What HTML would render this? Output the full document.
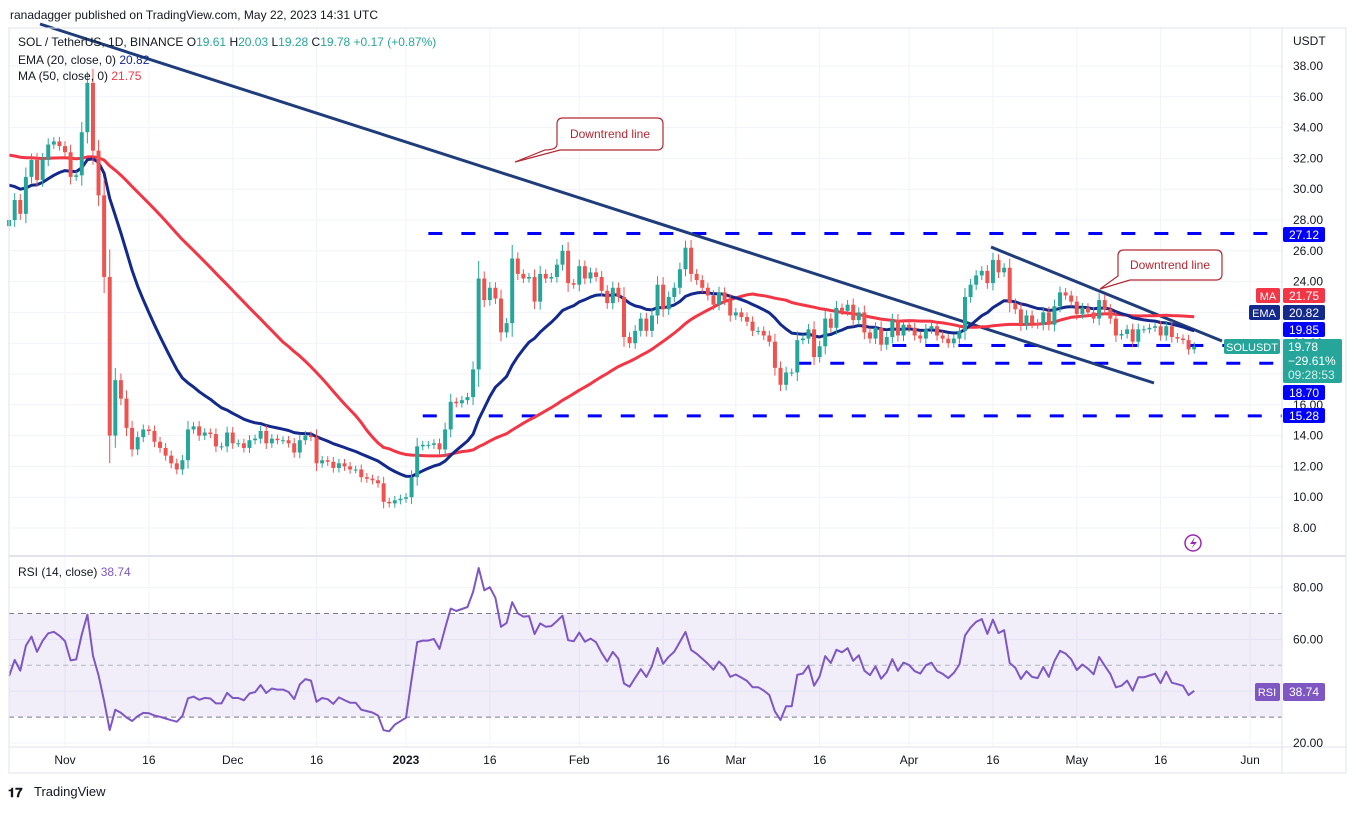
<!DOCTYPE html>
<html><head><meta charset="utf-8">
<style>
html,body{margin:0;padding:0;background:#fff;}
body{width:1356px;height:809px;overflow:hidden;font-family:"Liberation Sans",sans-serif;}
svg text{font-family:"Liberation Sans",sans-serif;}
</style></head>
<body>
<svg id="chart" width="1356" height="809" viewBox="0 0 1356 809" xmlns="http://www.w3.org/2000/svg">
<rect x="0" y="0" width="1356" height="809" fill="#ffffff"/>
<g id="grid"></g>
<g id="levels"></g>
<g id="trend"></g>
<g id="mas"></g>
<g id="candles"></g>
<g id="rsi"></g>
<g id="axes"></g>
<g id="overlay"></g>
</svg>
<script>
// ---- data ----
const startDay = -10; // days relative to Nov 1 2022 (Oct 22)
const closes = [
28.0,29.3,28.4,30.8,31.9,30.6,31.9,32.9,33.1,32.8,32.4,30.8,30.9,33.7,36.9,32.5,29.6,24.3,14.0,17.6,
16.4,14.5,13.1,13.9,14.4,14.3,13.6,13.2,12.7,12.2,11.8,12.4,14.4,14.6,14.0,14.2,14.1,13.3,13.3,14.2,
13.5,13.5,13.2,13.7,13.8,14.3,13.5,13.8,13.7,13.7,13.5,12.9,13.7,14.0,13.9,12.2,12.4,12.3,11.9,12.2,
12.0,11.8,11.8,11.3,11.2,11.1,10.9,9.7,9.6,9.8,9.9,10.0,11.3,13.3,
13.4,13.4,13.5,13.1,14.4,16.2,16.1,16.3,16.5,18.3,24.2,22.8,23.6,22.9,20.7,21.3,25.5,24.5,24.2,24.3,
22.7,24.5,24.2,24.3,25.1,26.0,23.9,23.8,25.0,24.2,24.6,24.3,23.4,22.6,23.6,23.0,20.4,20.0,20.8,21.6,
20.8,21.8,23.8,22.2,23.0,23.6,24.8,26.2,24.5,24.1,23.6,23.1,22.5,23.3,22.8,21.8,22.0,21.7,21.4,20.8,
20.8,20.5,20.1,18.4,17.3,18.1,18.1,20.2,
20.3,20.9,19.1,19.8,21.6,21.0,22.3,22.1,22.5,21.5,22.0,20.7,20.3,21.0,19.9,20.4,21.5,20.5,21.2,21.0,
20.5,20.3,20.9,21.1,20.5,20.3,20.0,20.3,20.8,23.0,23.8,24.4,24.7,23.9,25.4,24.6,24.9,22.6,22.2,21.2,
21.8,21.3,21.2,22.0,21.2,22.4,23.3,23.1,22.7,21.9,22.3,22.0,21.6,22.8,22.2,21.6,20.5,20.6,20.9,20.1,
20.9,20.9,21.0,21.1,20.5,21.1,20.4,20.3,20.2,19.6,19.78
];
const firstOpen = 27.6;
const priceTicks = [8,10,12,14,16,18,20,22,24,26,28,30,32,34,36,38];
const rsiTicks = [20,40,60,80];
const dateTickDays = [0,15,30,45,61,76,92,107,120,135,151,166,181,196,212];
const dateTickLabels = ["Nov","16","Dec","16","2023","16","Feb","16","Mar","16","Apr","16","May","16","Jun"];
const levelPrices = [27.12,19.85,18.70,15.28];
const levelStartDays = [65,148,131,64];

// ---- scales ----
const NS="http://www.w3.org/2000/svg";
function X(d){return 65+5.59*d;}
function Y(p){return 528-(p-8)*15.4;}
function RY(r){return 743-(r-20)*2.59;}
function mk(parent,tag,attrs,text){const e=document.createElementNS(NS,tag);for(const k in attrs)e.setAttribute(k,attrs[k]);if(text!==undefined)e.textContent=text;document.getElementById(parent).appendChild(e);return e;}

// grid
for(const p of priceTicks){const l=mk('grid','line',{x1:9,x2:1282,y1:Y(p),y2:Y(p),stroke:'#f0f3fa','stroke-width':1});

}
for(const d of dateTickDays){const l=mk('grid','line',{x1:X(d),x2:X(d),y1:28,y2:747,stroke:'#f0f3fa','stroke-width':1});

}
for(const r of rsiTicks){const l=mk('grid','line',{x1:9,x2:1282,y1:RY(r),y2:RY(r),stroke:'#f0f3fa','stroke-width':1});

}

// horizontal dashed levels
levelPrices.forEach((p,i)=>{const l=mk('levels','line',{x1:X(levelStartDays[i]),x2:1282,y1:Y(p),y2:Y(p),stroke:'#0000ff','stroke-width':3,'stroke-dasharray':'14 19'});

});

// trend lines
let t=mk('trend','line',{x1:40,y1:24,x2:1154,y2:383,stroke:'#1f3d7a','stroke-width':3});


t=mk('trend','line',{x1:991,y1:247,x2:1222,y2:341,stroke:'#1f3d7a','stroke-width':3});



// opens
const opens=closes.map((c,i)=>i===0?firstOpen:closes[i-1]);

// moving averages
const ema=[];let e=30.5;const a=2/21;
closes.forEach(c=>{e=c*a+e*(1-a);ema.push(e);});
const ma=[];
closes.forEach((c,i)=>{let s=0;for(let k=i-49;k<=i;k++)s+=(k<0?32.3:closes[k]);ma.push(s/50);});
function pathOf(arr,yf){return arr.map((v,i)=>(i?'L':'M')+X(startDay+i).toFixed(1)+' '+yf(v).toFixed(1)).join(' ');}
let p=mk('mas','path',{d:pathOf(ma,Y),fill:'none',stroke:'#f23645','stroke-width':3,'stroke-linejoin':'round'});


p=mk('mas','path',{d:pathOf(ema,Y),fill:'none',stroke:'#132a8c','stroke-width':3,'stroke-linejoin':'round'});



// candles
closes.forEach((c,i)=>{
  const o=opens[i];const up=c>=o;const col=up?'#26a69a':'#ef5350';
  const x=X(startDay+i);const hi=Math.max(o,c)+0.25+Math.abs(c-o)*0.15;const lo=Math.min(o,c)-0.25-Math.abs(c-o)*0.15;
  const w=mk('candles','line',{x1:x,x2:x,y1:Y(hi),y2:Y(lo),stroke:col,'stroke-width':1});
  
  
  const top=Y(Math.max(o,c));const h=Math.max(1,Y(Math.min(o,c))-top);
  const b=mk('candles','rect',{x:x-2,y:top,width:4,height:h,fill:col});
  
  
});

// RSI
mk('rsi','rect',{x:9,y:RY(70),width:1273,height:RY(30)-RY(70),fill:'#7e57c2','fill-opacity':0.1});
for(const r of [70,50,30]){const l=mk('rsi','line',{x1:9,x2:1282,y1:RY(r),y2:RY(r),stroke:r===50?'#b2b5be':'#787b86','stroke-width':1,'stroke-dasharray':'5 4'});

}
const rsiVals=[];let ag=0.35,al=0.45;
closes.forEach((c,i)=>{const ch=c-opens[i];ag=(ag*13+Math.max(ch,0))/14;al=(al*13+Math.max(-ch,0))/14;rsiVals.push(100-100/(1+ag/al));});
p=mk('rsi','path',{d:pathOf(rsiVals,RY),fill:'none',stroke:'#7e57c2','stroke-width':2,'stroke-linejoin':'round'});



// axes frame
mk('axes','rect',{x:9,y:28,width:1337,height:745,fill:'none',stroke:'#e0e3eb','stroke-width':1});
mk('axes','line',{x1:1282,x2:1282,y1:28,y2:773,stroke:'#e0e3eb'});
mk('axes','line',{x1:9,x2:1346,y1:556,y2:556,stroke:'#e0e3eb','stroke-width':2});
mk('axes','line',{x1:9,x2:1346,y1:747,y2:747,stroke:'#e0e3eb','stroke-width':1});
for(const pt of priceTicks){const tx=mk('axes','text',{x:1293,y:Y(pt)+4,'font-size':12,fill:'#131722'},pt.toFixed(2));

}
for(const r of rsiTicks){const tx=mk('axes','text',{x:1293,y:RY(r)+4,'font-size':12,fill:'#131722'},r.toFixed(2));

}
dateTickDays.forEach((d,i)=>{const tx=mk('axes','text',{x:X(d),y:764,'font-size':12,fill:'#131722','text-anchor':'middle','font-weight':dateTickLabels[i]==='2023'?'bold':'normal'},dateTickLabels[i]);

});
</script>
<svg width="1356" height="809" style="position:absolute;left:0;top:0" xmlns="http://www.w3.org/2000/svg">
<text x="10" y="19" font-size="12" fill="#131722">ranadagger published on TradingView.com, May 22, 2023 14:31 UTC</text>
<text x="18" y="46" font-size="12" fill="#131722">SOL / TetherUS, 1D, BINANCE  <tspan>O</tspan><tspan fill="#26a69a">19.61</tspan> H<tspan fill="#26a69a">20.03</tspan> L<tspan fill="#26a69a">19.28</tspan> C<tspan fill="#26a69a">19.78 +0.17 (+0.87%)</tspan></text>
<text x="18" y="64" font-size="12" fill="#131722">EMA (20, close, 0) <tspan fill="#132a8c">20.82</tspan></text>
<text x="18" y="80" font-size="12" fill="#131722">MA (50, close, 0) <tspan fill="#f23645">21.75</tspan></text>
<text x="1293" y="45" font-size="12" fill="#131722">USDT</text>
<g>
<path d="M567 118 H657 Q663 118 663 124 V144 Q663 150 657 150 H560 L515 162 L545 150 Q557 150 557 144 V124 Q557 118 563 118 Z" fill="#fff" stroke="#b22833" stroke-width="1.2"/>
<text x="610" y="138" font-size="12" fill="#b22833" text-anchor="middle">Downtrend line</text></g>
<g>
<path d="M1124 250 H1216 Q1222 250 1222 256 V274 Q1222 280 1216 280 H1130 L1100 289 L1118 276 V256 Q1118 250 1124 250 Z" fill="#fff" stroke="#b22833" stroke-width="1.2"/>
<text x="1170" y="269" font-size="12" fill="#b22833" text-anchor="middle">Downtrend line</text></g>
<g>
<rect x="1283" y="227" width="42" height="15" fill="#0000ff" rx="2"/><text x="1304" y="239" font-size="12" fill="#fff" text-anchor="middle">27.12</text>
<rect x="1256" y="288" width="24" height="15" fill="#f23645" rx="2"/><text x="1268" y="300" font-size="11" fill="#fff" text-anchor="middle">MA</text>
<rect x="1283" y="288" width="42" height="15" fill="#f23645" rx="2"/><text x="1304" y="300" font-size="12" fill="#fff" text-anchor="middle">21.75</text>
<rect x="1249" y="305" width="31" height="15" fill="#132a8c" rx="2"/><text x="1264" y="317" font-size="11" fill="#fff" text-anchor="middle">EMA</text>
<rect x="1283" y="305" width="42" height="15" fill="#132a8c" rx="2"/><text x="1304" y="317" font-size="12" fill="#fff" text-anchor="middle">20.82</text>
<rect x="1283" y="322" width="42" height="15" fill="#0000ff" rx="2"/><text x="1304" y="334" font-size="12" fill="#fff" text-anchor="middle">19.85</text>
<rect x="1224" y="339" width="56" height="15" fill="#26a69a" rx="2"/><text x="1252" y="351" font-size="11" fill="#fff" text-anchor="middle">SOLUSDT</text>
<rect x="1283" y="339" width="59" height="44" fill="#26a69a" rx="2"/>
<text x="1288" y="351" font-size="12" fill="#fff">19.78</text><text x="1288" y="365" font-size="12" fill="#fff">−29.61%</text><text x="1288" y="379" font-size="12" fill="#d6f0ec">09:28:53</text>
<rect x="1283" y="385" width="42" height="15" fill="#0000ff" rx="2"/><text x="1304" y="397" font-size="12" fill="#fff" text-anchor="middle">18.70</text>
<rect x="1283" y="408" width="42" height="15" fill="#0000ff" rx="2"/><text x="1304" y="420" font-size="12" fill="#fff" text-anchor="middle">15.28</text>
</g>
<g><circle cx="1193" cy="543" r="8" fill="none" stroke="#9c27b0" stroke-width="1.5"/><path d="M1195 537 L1190 544 H1194 L1191 549 L1197 542 H1193 Z" fill="#9c27b0"/></g>
<text x="18" y="576" font-size="12" fill="#131722">RSI (14, close) <tspan fill="#7e57c2">38.74</tspan></text>
<g>
<rect x="1255" y="683" width="25" height="18" fill="#7e57c2" rx="2"/><text x="1267" y="696" font-size="11" fill="#fff" text-anchor="middle">RSI</text>
<rect x="1283" y="683" width="42" height="18" fill="#7e57c2" rx="2"/><text x="1304" y="696" font-size="12" fill="#fff" text-anchor="middle">38.74</text></g>
<g><text x="8" y="797" font-size="13" font-weight="bold" fill="#131722">𝟏𝟕</text><text x="34" y="796" font-size="13" fill="#131722">TradingView</text></g>
</svg>
</body></html>
